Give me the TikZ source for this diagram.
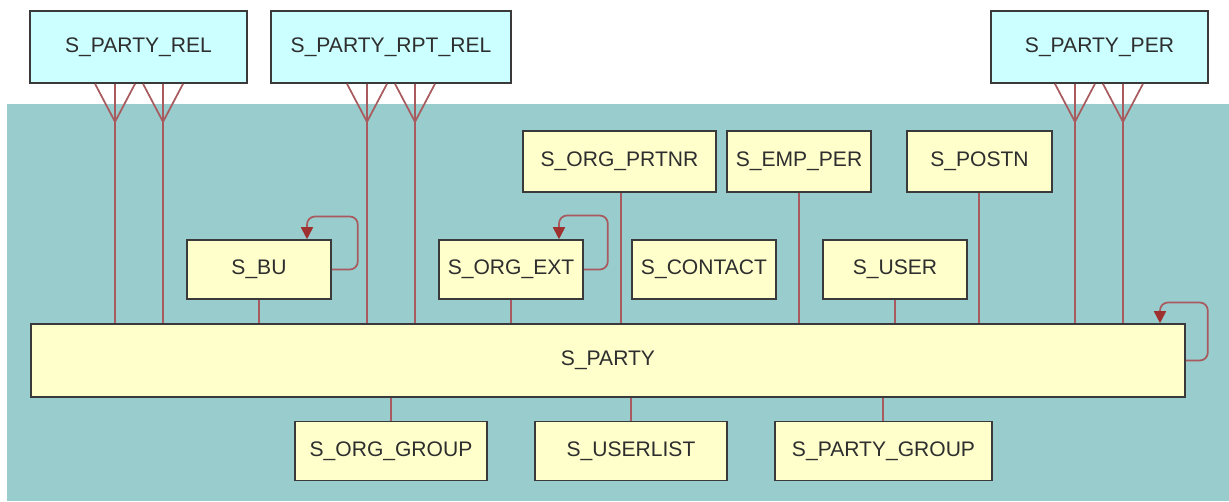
\documentclass[tikz,border=0pt]{standalone}
\usepackage{fontspec}
\setmainfont{Liberation Sans}
\usetikzlibrary{arrows.meta}
\definecolor{areateal}{HTML}{99CCCC}
\definecolor{extcyan}{HTML}{CCFFFF}
\definecolor{tblyellow}{HTML}{FFFFCC}
\definecolor{boxedge}{HTML}{3A3A3A}
\definecolor{relred}{HTML}{A85A5E}
\definecolor{tipred}{HTML}{9E3030}
\definecolor{txtgray}{HTML}{2E2E2E}
\tikzset{
  tbl/.style={draw=boxedge, line width=1.2pt, inner sep=0pt, text=txtgray,
    font=\fontsize{15.8pt}{18pt}\selectfont},
  extbox/.style={tbl, fill=extcyan, minimum height=54pt},
  midbox/.style={tbl, fill=tblyellow, minimum height=45.75pt},
  rowbox/.style={tbl, fill=tblyellow, minimum width=108pt, minimum height=44.25pt},
  lowbox/.style={tbl, fill=tblyellow, minimum height=44.25pt},
  wide/.style={minimum width=162.75pt},
  rel/.style={draw=relred, line width=1.3pt},
  selfloop/.style={draw=relred, line width=1.3pt, rounded corners=6pt,
    -{Triangle[length=9pt,width=9pt,color=tipred]}},
}
\begin{document}
\begin{tikzpicture}[x=0.75pt, y=-0.75pt]
\useasboundingbox (0,0) rectangle (1229,501);
% subject area
\fill[areateal] (7,104) rectangle (1229,501);

% external tables
\node[extbox, wide] (rel) at (138.5,47) {S\_PARTY\_REL};
\node[extbox, minimum width=180pt] (rpt) at (391,47) {S\_PARTY\_RPT\_REL};
\node[extbox, wide] (per) at (1099.5,47) {S\_PARTY\_PER};

% upper row
\node[midbox, minimum width=144.75pt] (prtnr) at (619.5,161.5) {S\_ORG\_PRTNR};
\node[midbox, minimum width=108pt] (emp) at (799,161.5) {S\_EMP\_PER};
\node[midbox, minimum width=108.75pt] (postn) at (979.5,161.5) {S\_POSTN};

% middle row
\node[rowbox] (bu) at (259,269.5) {S\_BU};
\node[rowbox] (orgext) at (511,269.5) {S\_ORG\_EXT};
\node[rowbox] (contact) at (704,269.5) {S\_CONTACT};
\node[rowbox] (user) at (895,269.5) {S\_USER};

% central table
\node[tbl, fill=tblyellow, minimum width=865.5pt, minimum height=54.75pt] (party) at (608,360.5) {S\_PARTY};

% lower row
\node[lowbox, minimum width=144pt] (orggroup) at (391,451) {S\_ORG\_GROUP};
\node[lowbox, minimum width=144pt] (userlist) at (631,451) {S\_USERLIST};
\node[lowbox, wide] (partygroup) at (883.5,451) {S\_PARTY\_GROUP};

% many-to-one links from the external tables
\foreach \src/\dx/\nm in {rel/-17.6/a1, rel/18.4/a2, rpt/-18/b1, rpt/18/b2, per/-18.4/c1, per/17.6/c2}{
  \path ([xshift=\dx pt]\src.south) coordinate (\nm);
  \draw[rel] (\nm) -- (\nm |- party.north);
  \draw[rel] ([xshift=-15pt]\nm) -- ([yshift=-28.5pt]\nm) -- ([xshift=15pt]\nm);
}

% links to the central table
\draw[rel] ([xshift=1.1pt]prtnr.south) -- ([xshift=1.1pt]prtnr.south |- party.north);
\draw[rel] (emp.south) -- (emp.south |- party.north);
\draw[rel] ([xshift=-0.4pt]postn.south) -- ([xshift=-0.4pt]postn.south |- party.north);
\draw[rel] (bu.south) -- (bu.south |- party.north);
\draw[rel] (orgext.south) -- (orgext.south |- party.north);
\draw[rel] (user.south) -- (user.south |- party.north);
\draw[rel] (orggroup.north) -- (orggroup.north |- party.south);
\draw[rel] (userlist.north) -- (userlist.north |- party.south);
\draw[rel] ([xshift=-0.4pt]partygroup.north) -- ([xshift=-0.4pt]partygroup.north |- party.south);

% recursive links
\draw[selfloop] (bu.east) -| ++(26,-53) -| ([xshift=36pt]bu.north);
\draw[selfloop] (orgext.east) -| ++(24,-54) -| ([xshift=36pt]orgext.north);
\draw[selfloop] (party.east) -| ++(22,-58) -| ([xshift=414pt]party.north);
\end{tikzpicture}
\end{document}
